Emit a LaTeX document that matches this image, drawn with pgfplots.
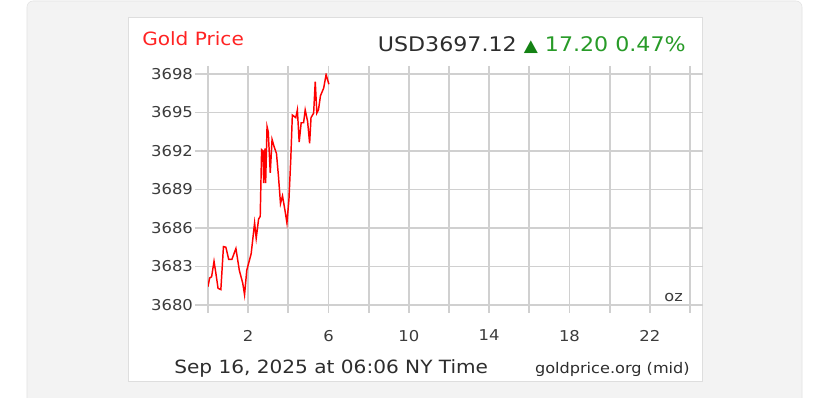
\documentclass[border=0pt]{standalone}
\usepackage{pgfplots}
\pgfplotsset{compat=1.18}
\usepackage{fontspec}
\setmainfont{DejaVu Sans}[FakeStretch=1.1]
\definecolor{gridgray}{RGB}{208,208,208}
\definecolor{panelfill}{RGB}{243,243,243}
\definecolor{panelborder}{RGB}{226,226,226}
\definecolor{cardborder}{RGB}{222,222,222}
\definecolor{labelgray}{RGB}{60,60,60}
\definecolor{darktext}{RGB}{45,45,45}
\definecolor{titlered}{RGB}{255,35,35}
\definecolor{upgreen}{RGB}{40,155,40}
\definecolor{trigreen}{RGB}{20,130,20}
\begin{document}
\begin{tikzpicture}
\useasboundingbox (0,0) rectangle (621.75pt,298.5pt);
\fill[white] (0,0) rectangle (621.75pt,298.5pt);
\draw[draw=panelborder, fill=panelfill, rounded corners=4.5pt] (20.25pt,-8pt) rectangle (601.5pt,297.75pt);
\draw[draw=cardborder, fill=white] (96pt,12.75pt) rectangle (526.5pt,285.75pt);
\begin{axis}[
  at={(156pt,69.75pt)}, anchor=south west,
  scale only axis, width=361.5pt, height=173.25pt,
  xmin=0, xmax=24, ymin=3680, ymax=3698,
  xtick={0,2,...,24},
  xticklabels={,2,,6,,10,,14,,18,,22,},
  ytick={3680,3683,3686,3689,3692,3695,3698},
  yticklabels={3680,3683,3686,3689,3692,3695,3698},
  grid=major,
  major grid style={gridgray, line width=1.3pt},
  axis line style={gridgray, line width=1.3pt},
  tick align=outside,
  major tick style={gridgray, line width=1.3pt},
  xtick style={/pgfplots/major tick length=6pt},
  ytick style={/pgfplots/major tick length=9.75pt},
  ticklabel style={font=\fontsize{11.2pt}{13pt}\selectfont, text=labelgray},
  xticklabel style={yshift=-11pt},
  yticklabel style={xshift=-3.5pt},
]
\addplot[red, line width=1.1pt] coordinates {
(0.00,3681.43) (0.08,3682.1) (0.18,3682.2) (0.30,3683.4) (0.39,3682.5)
(0.50,3681.3) (0.64,3681.2) (0.77,3684.55) (0.89,3684.5) (1.03,3683.56)
(1.19,3683.56) (1.39,3684.4) (1.56,3682.7) (1.73,3681.7) (1.82,3680.8)
(1.93,3682.7) (2.15,3684.0) (2.32,3686.4) (2.40,3685.2) (2.52,3686.7)
(2.60,3686.9) (2.67,3692.1) (2.74,3692.0) (2.77,3689.5) (2.84,3692.2)
(2.87,3689.5) (2.94,3693.9) (3.00,3693.5) (3.10,3690.3) (3.19,3692.9)
(3.28,3692.4) (3.41,3691.8) (3.51,3690.0) (3.61,3687.9) (3.71,3688.5)
(3.83,3687.4) (3.93,3686.4) (4.03,3688.2) (4.12,3691.3) (4.20,3694.8)
(4.29,3694.7) (4.37,3694.6) (4.45,3695.2) (4.54,3692.7) (4.64,3694.2)
(4.76,3694.2) (4.84,3695.2) (4.96,3694.3) (5.06,3692.6) (5.13,3694.6)
(5.26,3694.95) (5.34,3697.4) (5.42,3694.95) (5.50,3695.2) (5.60,3696.3)
(5.76,3696.9) (5.88,3697.95) (6.02,3697.2)
};
\end{axis}
\node[anchor=base west, inner sep=0pt, text=titlered, font=\fontsize{13.7pt}{16pt}\selectfont] at (106.5pt,264.4pt) {Gold Price};
\node[anchor=base east, inner sep=0pt, font=\fontsize{15.1pt}{17pt}\selectfont] at (514.5pt,259.5pt) {\textcolor{darktext}{USD3697.12} \textcolor{trigreen}{\fontsize{12.5pt}{14pt}\selectfont ▲} \textcolor{upgreen}{17.20 0.47\%}};
\node[anchor=base west, inner sep=0pt, text=darktext, font=\fontsize{13.7pt}{16pt}\selectfont] at (130.5pt,18pt) {Sep 16, 2025 at 06:06 NY Time};
\node[anchor=base east, inner sep=0pt, text=darktext, font=\fontsize{11pt}{13pt}\selectfont] at (517.5pt,18pt) {goldprice.org (mid)};
\node[anchor=base east, inner sep=0pt, text=labelgray, font=\fontsize{11pt}{13pt}\selectfont] at (512.25pt,72pt) {oz};
\end{tikzpicture}
\end{document}
